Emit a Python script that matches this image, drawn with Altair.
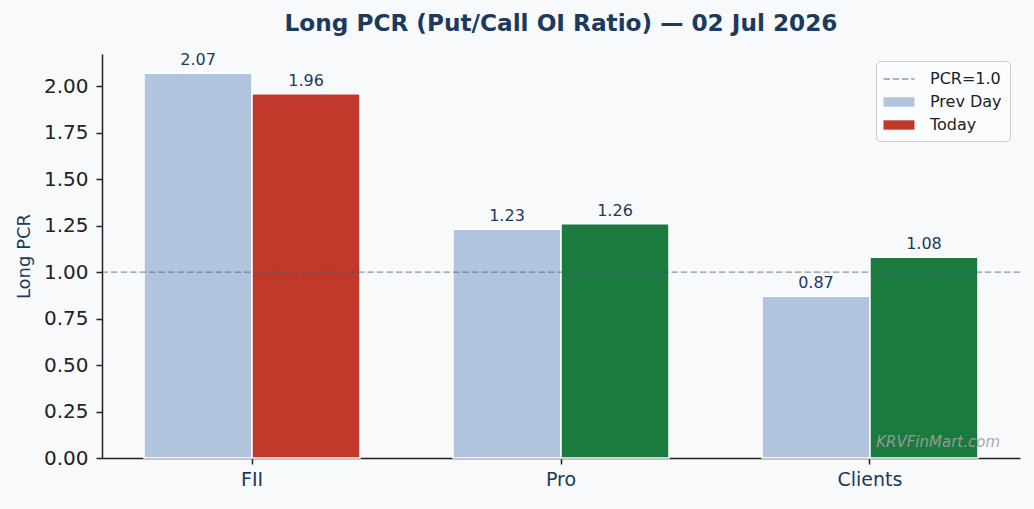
import altair as alt
import pandas as pd

categories = ["FII", "Pro", "Clients"]
series = ["Prev Day", "Today"]
prev_day = [2.07, 1.23, 0.87]
today = [1.96, 1.26, 1.08]
prev_color = "#b0c4de"
today_colors = ["#c0392b", "#1b7a3e", "#1b7a3e"]
ref_level = 1.0
legend_labels = ["PCR=1.0", "Prev Day", "Today"]
legend_colors = ["#8a9bb0", "#b0c4de", "#c0392b"]

NAVY = "#1b3a5c"
FONT = "DejaVu Sans"

rows = []
for i, c in enumerate(categories):
    rows.append({"category": c, "series": "Prev Day", "value": prev_day[i], "fill": prev_color})
    rows.append({"category": c, "series": "Today", "value": today[i], "fill": today_colors[i]})
df = pd.DataFrame(rows)

x_enc = alt.X("category:N", sort=categories, title=None,
              scale=alt.Scale(paddingInner=0.301, paddingOuter=0.136),
              axis=alt.Axis(labelAngle=0, labelFontSize=19, labelColor=NAVY, labelFont=FONT,
                            tickSize=6, labelPadding=6, domainColor="#222222", tickColor="#222222",
                            domainWidth=1.5, tickWidth=1.5))
xo_enc = alt.XOffset("series:N", sort=series, scale=alt.Scale(paddingInner=0, paddingOuter=0))
y_enc = alt.Y("value:Q", title="Long PCR",
              scale=alt.Scale(domain=[0, 2.1735], nice=False, zero=True),
              axis=alt.Axis(values=[0, 0.25, 0.5, 0.75, 1.0, 1.25, 1.5, 1.75, 2.0], format=".2f",
                            labelFontSize=20, labelColor="#222222", labelFont=FONT,
                            tickSize=6, labelPadding=8, grid=False,
                            domainColor="#222222", tickColor="#222222", domainWidth=1.5, tickWidth=1.5,
                            titleFontSize=18, titleColor=NAVY, titleFont=FONT, titleFontWeight="normal",
                            titlePadding=10))

base = alt.Chart(df)

bars = base.mark_bar(stroke="white", strokeWidth=1.5).encode(
    x=x_enc, xOffset=xo_enc, y=y_enc,
    color=alt.Color("fill:N", scale=None),
)

labels = base.mark_text(baseline="bottom", dy=-5, fontSize=16, color=NAVY, font=FONT).encode(
    x=x_enc, xOffset=xo_enc, y=y_enc,
    text=alt.Text("value:Q", format=".2f"),
)

rule = alt.Chart(pd.DataFrame({"level": [ref_level]})).mark_rule(
    stroke="#3d5876", opacity=0.6, strokeWidth=1.4, strokeDash=[6.5, 3]
).encode(y=alt.Y("level:Q"))

dash_path = ("M-1.55,-0.07H-0.9V0.07H-1.55Z M-0.63,-0.07H0.02V0.07H-0.63Z "
             "M0.29,-0.07H0.94V0.07H0.29Z M1.21,-0.07H1.55V0.07H1.21Z")
rect_path = "M-1.55,-0.47H1.55V0.47H-1.55Z"

legend_df = pd.DataFrame({"label": legend_labels})
legend_layer = alt.Chart(legend_df).mark_point(filled=True, opacity=0).encode(
    color=alt.Color("label:N", sort=legend_labels,
                    scale=alt.Scale(domain=legend_labels, range=legend_colors),
                    legend=alt.Legend(title=None, orient="none", legendX=774, legendY=7,
                                      labelFontSize=16, labelFont=FONT, labelColor="#222222",
                                      symbolSize=400, symbolOpacity=1, symbolOffset=5,
                                      labelOffset=21, rowPadding=5, padding=8,
                                      fillColor="#fbfcfd", strokeColor="#cccccc",
                                      cornerRadius=4, symbolStrokeWidth=0)),
    shape=alt.Shape("label:N", sort=legend_labels,
                    scale=alt.Scale(domain=legend_labels, range=[dash_path, rect_path, rect_path])),
)

watermark = alt.Chart(pd.DataFrame({"t": ["KRVFinMart.com"]})).mark_text(
    align="right", baseline="alphabetic", fontSize=15, fontStyle="italic", font=FONT,
    color="#a0a0a0", opacity=0.9,
).encode(x=alt.value(898), y=alt.value(393), text="t:N")

chart = alt.layer(bars, labels, rule, legend_layer, watermark).properties(
    width=918, height=404,
    title=alt.TitleParams("Long PCR (Put/Call OI Ratio) — 02 Jul 2026", fontSize=23.2, fontWeight="bold",
                          color=NAVY, font=FONT, anchor="middle", offset=16),
    background="#f8f9fb",
    padding={"left": 102, "top": 54, "right": 14, "bottom": 51},
    autosize=alt.AutoSizeParams(type="none"),
).configure_view(stroke=None)

chart.save("out.html", embed_options={"renderer": "svg", "actions": False})
